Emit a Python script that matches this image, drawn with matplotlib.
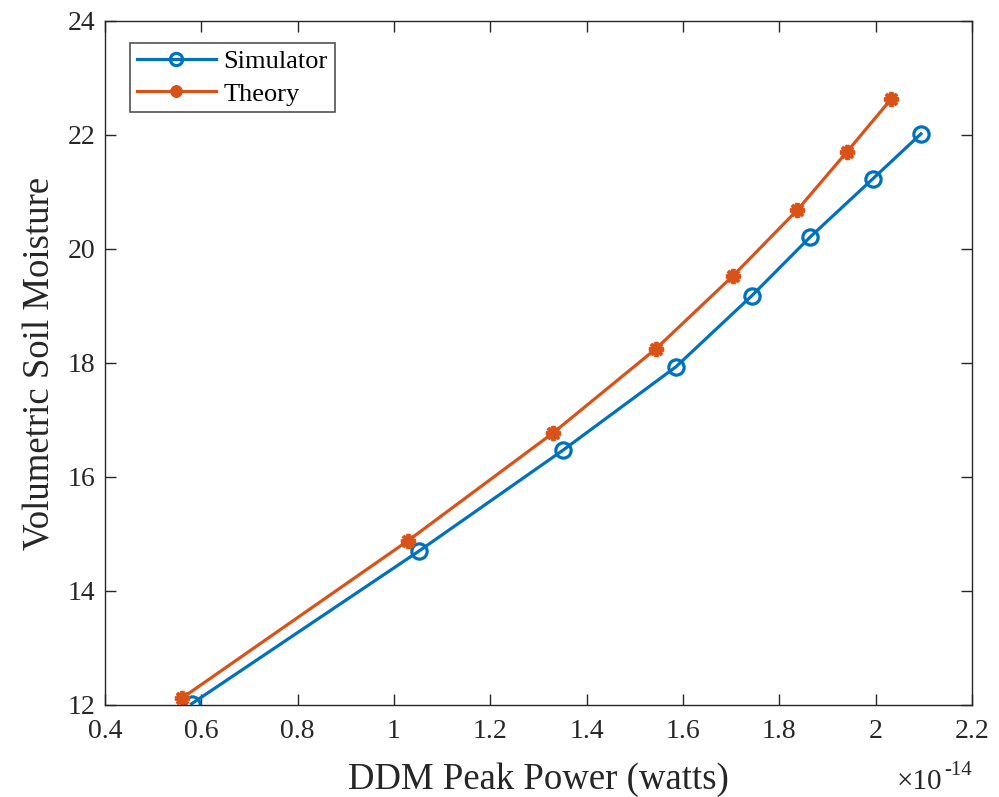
import matplotlib
matplotlib.use("Agg")
import matplotlib.pyplot as plt
from matplotlib.ticker import FuncFormatter

# x values in units of 1e-14 watts
sim_x = [0.58, 1.052, 1.351, 1.585, 1.743, 1.864, 1.994, 2.094]
sim_y = [12.02, 14.70, 16.47, 17.93, 19.18, 20.21, 21.23, 22.02]
th_x = [0.56, 1.029, 1.330, 1.544, 1.704, 1.837, 1.940, 2.032]
th_y = [12.12, 14.88, 16.77, 18.25, 19.53, 20.68, 21.70, 22.63]
xticks = [0.4, 0.6, 0.8, 1.0, 1.2, 1.4, 1.6, 1.8, 2.0, 2.2]
yticks = [12, 14, 16, 18, 20, 22, 24]

plt.rcParams['font.family'] = ['Liberation Serif', 'DejaVu Serif']

W, H = 999, 797
fig = plt.figure(figsize=(W / 100, H / 100), dpi=100)
ax = fig.add_axes([0.105, 0.1155, 0.868, 0.8582])

blue = '#0072BD'
orange = '#D95319'
ax.plot(sim_x, sim_y, color=blue, lw=2.3, marker='o', ms=11, mfc='none',
        mew=2.3, label='Simulator')
ax.plot(th_x, th_y, color=orange, lw=2.3, marker=(8, 2, 0), ms=11,
        mew=2.8, label='Theory')

ax.set_xlim(0.4, 2.2)
ax.set_ylim(12, 24)
ax.set_xticks(xticks)
ax.set_yticks(yticks)
ax.xaxis.set_major_formatter(FuncFormatter(lambda v, p: '%g' % round(v, 2)))
ax.yaxis.set_major_formatter(FuncFormatter(lambda v, p: '%g' % v))
ax.tick_params(direction='in', top=True, right=True, length=8, width=1,
               colors='#262626', labelsize=20)
ax.tick_params(axis='x', pad=10)
ax.tick_params(axis='y', pad=7)
for s in ax.spines.values():
    s.set_color('#262626')
    s.set_linewidth(1)

ax.set_xlabel('DDM Peak Power (watts)', fontsize=26.5, color='#262626', labelpad=13)
ax.set_ylabel('Volumetric Soil Moisture', fontsize=26.5, color='#262626', labelpad=7)

# exponent label (x10^-14) below the right end of the x axis
fig.text(942 / W, 1 - 789 / H, '\u00d710', ha='right', va='baseline',
         fontsize=21, color='#262626')
fig.text(972 / W, 1 - 775 / H, '-14', ha='right', va='baseline',
         fontsize=15, color='#262626')

leg = ax.legend(loc='upper left', bbox_to_anchor=(0.029, 0.968), fontsize=19,
                frameon=True, fancybox=False, edgecolor='#262626',
                handlelength=3.0, borderpad=0.25, labelspacing=0.35,
                handletextpad=0.3, borderaxespad=0, markerscale=0.8)
leg.get_frame().set_linewidth(1.2)

fig.savefig('out.png', dpi=100)
